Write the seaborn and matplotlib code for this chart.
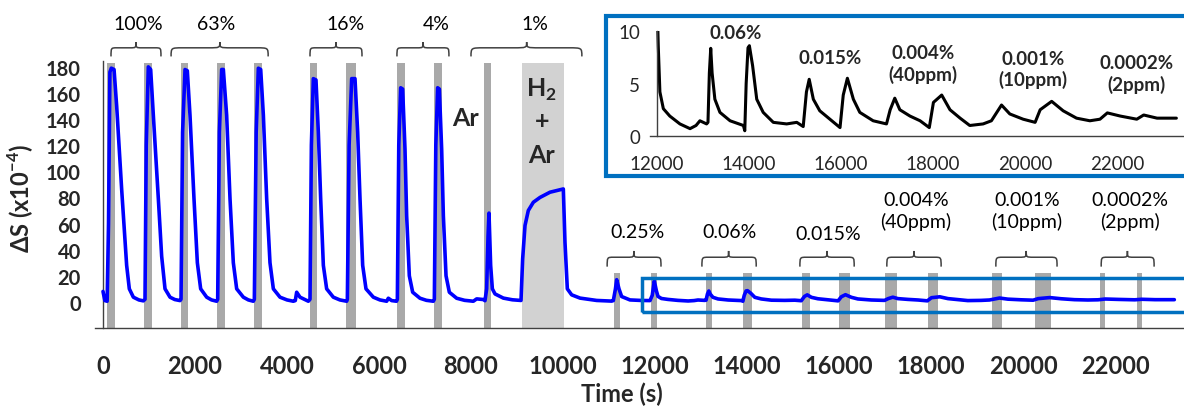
import matplotlib
matplotlib.use('Agg')
import matplotlib.pyplot as plt
import seaborn as sns
import pandas as pd
from matplotlib.patches import Rectangle, PathPatch
from matplotlib.path import Path

# signal trace: time (s), dS (x1e-4)
time_s = [0, 40, 90, 120, 150, 180, 240, 297, 406, 514, 572, 660, 780, 877,
          913, 940, 985, 1036, 1094, 1203, 1275, 1348, 1457, 1560, 1674,
          1696, 1730, 1783, 1833, 1891, 1978, 2051, 2123, 2254, 2360, 2471,
          2493, 2530, 2580, 2616, 2688, 2761, 2833, 2906, 3051, 3160, 3268,
          3290, 3330, 3377, 3428, 3486, 3558, 3630, 3703, 3848, 4000, 4138,
          4180, 4210, 4283, 4464,
          4500, 4530, 4572, 4630, 4681, 4732, 4790, 4862, 5007, 5150, 5297,
          5312, 5350, 5406, 5478, 5536, 5587, 5645, 5717, 5877, 6020, 6167, 6203, 6275,
          6380, 6399, 6430, 6471, 6514, 6565, 6601, 6659, 6732, 6891, 7030, 7181,
          7203, 7235, 7275, 7312, 7362, 7399, 7457, 7529, 7688, 7860, 8051, 8123, 8268,
          8304, 8340, 8370, 8391, 8427, 8464, 8522, 8703, 8900, 9087,
          9123, 9174, 9246, 9355, 9500, 9717, 10007, 10043, 10094, 10188, 10370, 10732, 11058,
          11094, 11140, 11167, 11217, 11275, 11456, 11700, 11891, 11940, 11985, 12030,
          12065, 12140, 12280, 12500, 12720, 12850, 12935, 13080, 13110, 13140, 13170,
          13200, 13260, 13370, 13590, 13880, 13910, 13940, 13980, 14010, 14080, 14170,
          14310, 14530, 14820, 15040, 15180, 15250, 15310, 15400, 15540, 15760, 15980,
          16050, 16140, 16270, 16410, 16700, 16990, 17070, 17170, 17280, 17500, 17720,
          17920, 18010, 18190, 18370, 18590, 18800, 19090, 19270, 19490, 19670, 19960,
          20220, 20330, 20580, 20830, 21120, 21410, 21630, 21790, 22070, 22430, 22580,
          22870, 23290]
signal = [8, 1, 0.5, 60, 176, 179, 178, 150, 86, 28, 10, 3.6, 1.5, 0.8,
          2, 120, 180, 178, 143, 79, 35, 10, 3.6, 1.8, 1,
          2, 130, 178, 177, 143, 79, 30, 10, 3.6, 1.5, 0.5,
          2, 130, 178, 178, 143, 79, 30, 10, 3.6, 1.5, 0.5,
          2, 130, 179, 178, 143, 79, 30, 10, 3.6, 1.5, 0.5,
          1, 7.4, 3.6, 0.5,
          2, 120, 171, 170, 130, 79, 28, 10, 3.6, 1.5, 0.5,
          2, 120, 171, 171, 130, 79, 28, 10, 3.6, 1.5, 0.5, 2.8, 1,
          0.5, 2, 120, 164, 163, 117, 66, 20, 7.4, 2.8, 1.2, 0.5,
          2, 120, 164, 163, 117, 66, 20, 7.4, 2.8, 1.2, 0.5, 2.3, 1.8,
          0.9, 10, 50, 68, 28, 10, 6.1, 2.9, 1.6, 1.1,
          33, 58.5, 70, 76.3, 80, 84, 86.5, 45.6, 10, 5.4, 2.9, 1.1, 0.6,
          1, 10, 17, 10, 4.1, 1.5, 1.1, 1, 5, 16, 8.5,
          4.2, 2.6, 1.9, 1.15, 0.7, 1.0, 1.45, 1.15, 1.3, 6, 8.35,
          6, 3.5, 2.25, 1.45, 1.0, 0.5, 5, 8.4, 8.6, 6.7, 3.5,
          2.25, 1.3, 1.15, 1.3, 0.9, 4.2, 5.4, 3.5, 2.4, 1.6, 0.8,
          3.9, 5.5, 3.5, 2.25, 1.45, 1.15, 2.5, 3.6, 2.5, 1.9, 1.45,
          0.8, 3.2, 3.9, 2.5, 1.7, 1.0, 1.15, 1.45, 2.95, 2.1, 1.6,
          1.3, 2.5, 3.3, 2.4, 1.7, 1.45, 1.6, 2.2, 1.9, 1.6, 2.0,
          1.7, 1.7]

# gas pulse windows (s)
pulse_start = [90, 890, 1700, 2480, 3280, 4500, 5280, 6390, 7200, 8280,
               11100, 11910, 13110, 13910, 15200, 16000, 17000, 17930, 19330, 20260, 21670, 22480]
pulse_end = [260, 1065, 1850, 2650, 3460, 4650, 5500, 6570, 7370, 8430,
             11240, 12040, 13240, 14110, 15370, 16240, 17260, 18150, 19540, 20610, 21780, 22590]
pulse_top = [183] * 10 + [22] * 12
h2ar_window = [9100, 10020]

# concentration labels with braces
conc_labels = ['100%', '63%', '16%', '4%', '1%',
               '0.25%', '0.06%', '0.015%', '0.004%\n(40ppm)', '0.001%\n(10ppm)', '0.0002%\n(2ppm)']
label_x = [760, 2456, 5280, 7240, 9390, 11630, 13630, 15760, 17670, 20090, 22330]
label_y = [213, 213, 213, 213, 213, 53.6, 53.6, 52, 70, 70, 70]
brace_x0 = [174, 1480, 4500, 6390, 8000, 10960, 13020, 15150, 17040, 19410, 21700]
brace_x1 = [1260, 3590, 5630, 7520, 10410, 12130, 14200, 16330, 18220, 20740, 22850]
brace_tip = [717, 2540, 5065, 6960, 9210, 11540, 13600, 15740, 17630, 20070, 22270]
brace_low = [188] * 5 + [27] * 6
brace_high = [199] * 5 + [39] * 6

# inset labels
inset_labels = ['0.06%', '0.015%', '0.004%\n(40ppm)', '0.001%\n(10ppm)', '0.0002%\n(2ppm)']
inset_label_x = [13717, 15760, 17780, 20170, 22430]
inset_label_y = [9.9, 7.5, 6.9, 6.4, 5.95]

sns.set_style('white')
plt.rcParams['font.family'] = ['Lato', 'DejaVu Sans']
plt.rcParams['mathtext.fontset'] = 'custom'
plt.rcParams['mathtext.rm'] = 'Lato'
plt.rcParams['mathtext.bf'] = 'Lato:bold'

df = pd.DataFrame({'t': time_s, 's': signal})

fig = plt.figure(figsize=(11.84, 4.10), dpi=100)
ax = fig.add_axes([95 / 1184, 1 - 329 / 410, 1089 / 1184, 267 / 410])

widths = [e - s for s, e in zip(pulse_start, pulse_end)]
heights = [t + 20 for t in pulse_top]
ax.bar(pulse_start, heights, width=widths, bottom=-20, align='edge',
       color='#a9a9a9', lw=0, zorder=1)
ax.bar(h2ar_window[0], 183 + 20, width=h2ar_window[1] - h2ar_window[0], bottom=-20,
       align='edge', color='#d2d2d2', lw=0, zorder=1)

sns.lineplot(data=df, x='t', y='s', ax=ax, color='#0000ff', lw=2.6,
             estimator=None, sort=False, zorder=3)

ax.set_xlim(-174, 23500)
ax.set_ylim(-20, 184.5)
ax.spines['left'].set_position(('data', 0))
ax.spines['top'].set_visible(False)
ax.spines['right'].set_visible(False)
for sp in ['left', 'bottom']:
    ax.spines[sp].set_color('#404040')
    ax.spines[sp].set_linewidth(1)
ax.set_xticks(range(0, 22001, 2000))
ax.set_yticks(range(0, 181, 20))
ax.tick_params(axis='x', length=9, width=1, pad=10, labelsize=17, color='#404040')
ax.tick_params(axis='y', length=6, width=1, pad=10, labelsize=14.5, color='#404040')
for lbl in ax.get_xticklabels() + ax.get_yticklabels():
    lbl.set_fontweight('bold')

ax.set_xlabel('Time (s)', fontsize=17, fontweight='bold')
ax.set_ylabel(r'ΔS (x10$^{\mathbf{-4}}$)', fontsize=17, fontweight='bold')
ax.xaxis.set_label_coords(0.484, -0.20)
ax.yaxis.set_label_coords(-0.054, 0.49)


def brace(axis, x0, x1, xm, yb, yt):
    ym = yb + 0.6 * (yt - yb)
    q = 0.12 * (x1 - x0)
    verts = [(x0, yb), (x0, ym), (x0, ym), (x0 + q, ym),
             (xm - q, ym),
             (xm, ym), (xm, ym), (xm, yt),
             (xm, ym), (xm, ym), (xm + q, ym),
             (x1 - q, ym),
             (x1, ym), (x1, ym), (x1, yb)]
    codes = [Path.MOVETO, Path.CURVE4, Path.CURVE4, Path.CURVE4,
             Path.LINETO,
             Path.CURVE4, Path.CURVE4, Path.CURVE4,
             Path.CURVE4, Path.CURVE4, Path.CURVE4,
             Path.LINETO,
             Path.CURVE4, Path.CURVE4, Path.CURVE4]
    axis.add_patch(PathPatch(Path(verts, codes), fill=False, ec='#404040',
                             lw=1.1, clip_on=False, zorder=4))


for i in range(len(conc_labels)):
    brace(ax, brace_x0[i], brace_x1[i], brace_tip[i], brace_low[i], brace_high[i])
    ax.text(label_x[i], label_y[i], conc_labels[i], ha='center', va='center',
            fontsize=14, linespacing=1.2, clip_on=False, color='black')

ax.text(7870, 141, 'Ar', ha='center', va='center', fontsize=18, fontweight='bold')
ax.text(9540, 163, r'H$_{\mathbf{2}}$', ha='center', va='center', fontsize=18, fontweight='bold')
ax.text(9540, 139, '+', ha='center', va='center', fontsize=18, fontweight='bold')
ax.text(9540, 113, 'Ar', ha='center', va='center', fontsize=18, fontweight='bold')

ax.add_patch(Rectangle((11720, -7.7), 12500, 26.1, fill=False, ec='#0070c0',
                       lw=2.5, clip_on=False, zorder=4))

# inset
frame = Rectangle((606 / 1184, 1 - 177 / 410), 0.6, 160 / 410, transform=fig.transFigure,
                  facecolor='white', edgecolor='#0070c0', lw=3, zorder=5)
fig.add_artist(frame)
ins = fig.add_axes([650 / 1184, 1 - 137 / 410, 534 / 1184, 105 / 410])
ins.set_zorder(6)
ins.patch.set_alpha(0)
sub = df[df['t'] >= 11985]
sns.lineplot(data=sub, x='t', y='s', ax=ins, color='black', lw=2.2,
             estimator=None, sort=False)
ins.set_xlim(11850, 23456)
ins.set_ylim(0, 10)
ins.spines['left'].set_position(('data', 12000))
ins.spines['top'].set_visible(False)
ins.spines['right'].set_visible(False)
for sp in ['left', 'bottom']:
    ins.spines[sp].set_color('#404040')
    ins.spines[sp].set_linewidth(1)
ins.set_xticks(range(12000, 22001, 2000))
ins.set_yticks([0, 5, 10])
ins.tick_params(axis='x', length=5, width=1, pad=9, labelsize=13.5, color='#404040')
ins.tick_params(axis='y', length=6, width=1, pad=6, labelsize=13.5, color='#404040')
ins.set_xlabel('')
ins.set_ylabel('')
for i in range(len(inset_labels)):
    ins.text(inset_label_x[i], inset_label_y[i], inset_labels[i], ha='center', va='center',
             fontsize=13.5, fontweight='bold', linespacing=1.2)

fig.savefig('out.png', dpi=100)
